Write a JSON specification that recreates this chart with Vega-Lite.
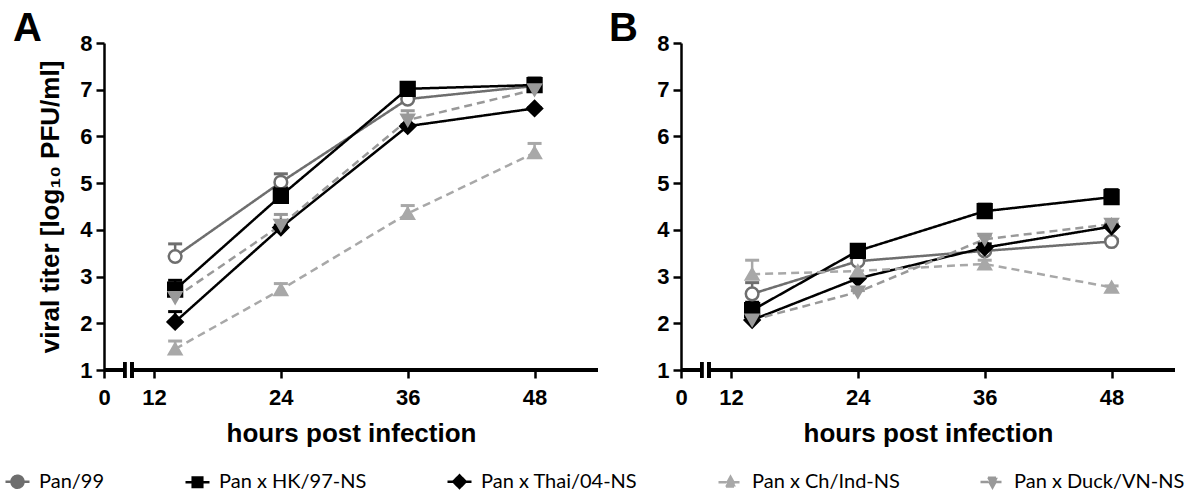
{
  "$schema": "https://vega.github.io/schema/vega-lite/v6.json",
  "padding": {"left": 4, "top": 9, "right": 0, "bottom": 0},
  "background": "white",
  "datasets": {
    "titers": [
      {"panel": "A", "series": "Pan/99", "hpi": 14, "titer": 3.43, "upper": 3.70},
      {"panel": "A", "series": "Pan/99", "hpi": 24, "titer": 5.02, "upper": 5.20},
      {"panel": "A", "series": "Pan/99", "hpi": 36, "titer": 6.80, "upper": 6.92},
      {"panel": "A", "series": "Pan/99", "hpi": 48, "titer": 7.08, "upper": 7.20},
      {"panel": "A", "series": "Pan x HK/97-NS", "hpi": 14, "titer": 2.72, "upper": 2.92},
      {"panel": "A", "series": "Pan x HK/97-NS", "hpi": 24, "titer": 4.73, "upper": 4.90},
      {"panel": "A", "series": "Pan x HK/97-NS", "hpi": 36, "titer": 7.02, "upper": 7.15},
      {"panel": "A", "series": "Pan x HK/97-NS", "hpi": 48, "titer": 7.10, "upper": 7.25},
      {"panel": "A", "series": "Pan x Thai/04-NS", "hpi": 14, "titer": 2.03, "upper": 2.25},
      {"panel": "A", "series": "Pan x Thai/04-NS", "hpi": 24, "titer": 4.05, "upper": 4.10},
      {"panel": "A", "series": "Pan x Thai/04-NS", "hpi": 36, "titer": 6.22, "upper": 6.25},
      {"panel": "A", "series": "Pan x Thai/04-NS", "hpi": 48, "titer": 6.60, "upper": 6.62},
      {"panel": "A", "series": "Pan x Ch/Ind-NS", "hpi": 14, "titer": 1.45, "upper": 1.62},
      {"panel": "A", "series": "Pan x Ch/Ind-NS", "hpi": 24, "titer": 2.72, "upper": 2.85},
      {"panel": "A", "series": "Pan x Ch/Ind-NS", "hpi": 36, "titer": 4.35, "upper": 4.52},
      {"panel": "A", "series": "Pan x Ch/Ind-NS", "hpi": 48, "titer": 5.65, "upper": 5.85},
      {"panel": "A", "series": "Pan x Duck/VN-NS", "hpi": 14, "titer": 2.55, "upper": 2.68},
      {"panel": "A", "series": "Pan x Duck/VN-NS", "hpi": 24, "titer": 4.10, "upper": 4.33},
      {"panel": "A", "series": "Pan x Duck/VN-NS", "hpi": 36, "titer": 6.35, "upper": 6.55},
      {"panel": "A", "series": "Pan x Duck/VN-NS", "hpi": 48, "titer": 7.00, "upper": 7.10},
      {"panel": "B", "series": "Pan/99", "hpi": 14, "titer": 2.63, "upper": 2.87},
      {"panel": "B", "series": "Pan/99", "hpi": 24, "titer": 3.33, "upper": 3.38},
      {"panel": "B", "series": "Pan/99", "hpi": 36, "titer": 3.55, "upper": 3.60},
      {"panel": "B", "series": "Pan/99", "hpi": 48, "titer": 3.75, "upper": 3.80},
      {"panel": "B", "series": "Pan x HK/97-NS", "hpi": 14, "titer": 2.28, "upper": 2.45},
      {"panel": "B", "series": "Pan x HK/97-NS", "hpi": 24, "titer": 3.55, "upper": 3.64},
      {"panel": "B", "series": "Pan x HK/97-NS", "hpi": 36, "titer": 4.40, "upper": 4.55},
      {"panel": "B", "series": "Pan x HK/97-NS", "hpi": 48, "titer": 4.70, "upper": 4.86},
      {"panel": "B", "series": "Pan x Thai/04-NS", "hpi": 14, "titer": 2.07, "upper": 2.10},
      {"panel": "B", "series": "Pan x Thai/04-NS", "hpi": 24, "titer": 2.96, "upper": 3.00},
      {"panel": "B", "series": "Pan x Thai/04-NS", "hpi": 36, "titer": 3.62, "upper": 3.70},
      {"panel": "B", "series": "Pan x Thai/04-NS", "hpi": 48, "titer": 4.07, "upper": 4.12},
      {"panel": "B", "series": "Pan x Ch/Ind-NS", "hpi": 14, "titer": 3.05, "upper": 3.35},
      {"panel": "B", "series": "Pan x Ch/Ind-NS", "hpi": 24, "titer": 3.12, "upper": 3.30},
      {"panel": "B", "series": "Pan x Ch/Ind-NS", "hpi": 36, "titer": 3.27, "upper": 3.35},
      {"panel": "B", "series": "Pan x Ch/Ind-NS", "hpi": 48, "titer": 2.77, "upper": 2.80},
      {"panel": "B", "series": "Pan x Duck/VN-NS", "hpi": 14, "titer": 2.07, "upper": 2.10},
      {"panel": "B", "series": "Pan x Duck/VN-NS", "hpi": 24, "titer": 2.67, "upper": 2.70},
      {"panel": "B", "series": "Pan x Duck/VN-NS", "hpi": 36, "titer": 3.80, "upper": 3.88},
      {"panel": "B", "series": "Pan x Duck/VN-NS", "hpi": 48, "titer": 4.12, "upper": 4.15}
    ]
  },
  "data": {"name": "titers"},
  "hconcat": [
    {
      "width": 494,
      "height": 327,
      "title": {"text": "A", "anchor": "start", "frame": "group", "dx": -91},
      "transform": [{"filter": "datum.panel === 'A'"}],
      "layer": [
        {
          "mark": {"type": "line", "strokeWidth": 2.5},
          "encoding": {
            "x": {"field": "hpi", "type": "quantitative", "scale": {"domain": [0, 12, 54], "range": [0, 50, 494], "nice": false, "zero": false},
                  "axis": {"values": [0, 12, 24, 36, 48], "title": "hours post infection", "domain": false}},
            "y": {"field": "titer", "type": "quantitative", "scale": {"domain": [1, 8], "nice": false, "zero": false},
                  "axis": {"values": [1, 2, 3, 4, 5, 6, 7, 8], "title": "viral titer [log₁₀ PFU/ml]"}},
            "color": {"field": "series", "type": "nominal",
                      "scale": {"domain": ["Pan/99", "Pan x HK/97-NS", "Pan x Thai/04-NS", "Pan x Ch/Ind-NS", "Pan x Duck/VN-NS"], "range": ["#6e6e6e", "#000000", "#000000", "#a8a8a8", "#999999"]},
                      "legend": {
                        "orient": "none", "legendX": -100, "legendY": 425, "direction": "horizontal", "columns": 5, "title": null,
                        "encode": {
                          "symbols": {"update": {
                            "shape": {"signal": "datum.value === 'Pan/99' ? 'M-1,0H-0.5M0.5,0H1M-0.5,0A0.5,0.5 0 1 1 0.5,0A0.5,0.5 0 1 1 -0.5,0M-0.5,0H0.5' : datum.value === 'Pan x HK/97-NS' ? 'M-1,0H1M-0.4,-0.4H0.4V0.4H-0.4Z' : datum.value === 'Pan x Thai/04-NS' ? 'M-1,0H1M0,-0.52L0.52,0L0,0.52L-0.52,0Z' : datum.value === 'Pan x Ch/Ind-NS' ? 'M-1,0H1M0,-0.45L0.45,0.36L-0.45,0.36Z' : 'M-1,0H1M0,0.45L0.45,-0.36L-0.45,-0.36Z'"},
                            "fill": {"signal": "datum.value === 'Pan/99' ? 'transparent' : scale('color', datum.value)"},
                            "strokeWidth": {"value": 2.5},
                            "opacity": {"value": 1}
                          }}
                        }
                      }},
            "strokeDash": {"field": "series", "type": "nominal",
                      "scale": {"domain": ["Pan/99", "Pan x HK/97-NS", "Pan x Thai/04-NS", "Pan x Ch/Ind-NS", "Pan x Duck/VN-NS"], "range": [[1, 0], [1, 0], [1, 0], [8, 5], [8, 5]]}}
          }
        },
        {
          "mark": {"type": "rule", "strokeWidth": 2.5},
          "encoding": {
            "x": {"field": "hpi", "type": "quantitative"},
            "y": {"field": "titer", "type": "quantitative"},
            "y2": {"field": "upper"},
            "stroke": {"field": "series", "type": "nominal", "legend": null,
                       "scale": {"domain": ["Pan/99", "Pan x HK/97-NS", "Pan x Thai/04-NS", "Pan x Ch/Ind-NS", "Pan x Duck/VN-NS"], "range": ["#6e6e6e", "#000000", "#000000", "#a8a8a8", "#999999"]}}
          }
        },
        {
          "mark": {"type": "point", "shape": "stroke", "size": 196, "strokeWidth": 3, "opacity": 1},
          "encoding": {
            "x": {"field": "hpi", "type": "quantitative"},
            "y": {"field": "upper", "type": "quantitative"},
            "stroke": {"field": "series", "type": "nominal", "legend": null}
          }
        },
        {
          "mark": {"type": "point", "filled": false, "opacity": 1, "strokeWidth": 2.5},
          "encoding": {
            "x": {"field": "hpi", "type": "quantitative"},
            "y": {"field": "titer", "type": "quantitative"},
            "shape": {"condition": [
              {"test": "datum.series === 'Pan/99'", "value": "circle"},
              {"test": "datum.series === 'Pan x HK/97-NS'", "value": "square"},
              {"test": "datum.series === 'Pan x Thai/04-NS'", "value": "diamond"},
              {"test": "datum.series === 'Pan x Ch/Ind-NS'", "value": "triangle-up"}
            ], "value": "triangle-down"},
            "size": {"condition": [
              {"test": "datum.series === 'Pan/99'", "value": 160},
              {"test": "datum.series === 'Pan x HK/97-NS'", "value": 190},
              {"test": "datum.series === 'Pan x Thai/04-NS'", "value": 220}
            ], "value": 150},
            "stroke": {"field": "series", "type": "nominal", "legend": null},
            "fill": {"condition": {"test": "datum.series === 'Pan/99'", "value": "white"}, "field": "series", "type": "nominal", "legend": null,
                     "scale": {"domain": ["Pan/99", "Pan x HK/97-NS", "Pan x Thai/04-NS", "Pan x Ch/Ind-NS", "Pan x Duck/VN-NS"], "range": ["#6e6e6e", "#000000", "#000000", "#a8a8a8", "#999999"]}}
          }
        },
        {
          "mark": {"type": "rule", "color": "black", "strokeWidth": 2.5},
          "encoding": {"x": {"datum": 0}, "x2": {"datum": 5}, "y": {"datum": 1}}
        },
        {
          "mark": {"type": "rule", "color": "black", "strokeWidth": 2.5},
          "encoding": {"x": {"datum": 6.7}, "x2": {"datum": 54}, "y": {"datum": 1}}
        },
        {
          "mark": {"type": "rule", "color": "black", "strokeWidth": 2.5},
          "encoding": {"x": {"datum": 5}, "y": {"datum": 0.83}, "y2": {"datum": 1.17}}
        },
        {
          "mark": {"type": "rule", "color": "black", "strokeWidth": 2.5},
          "encoding": {"x": {"datum": 6.7}, "y": {"datum": 0.83}, "y2": {"datum": 1.17}}
        }
      ]
    },
    {
      "width": 494,
      "height": 327,
      "title": {"text": "B", "anchor": "start", "frame": "group", "dx": -72},
      "transform": [{"filter": "datum.panel === 'B'"}],
      "layer": [
        {
          "mark": {"type": "line", "strokeWidth": 2.5},
          "encoding": {
            "x": {"field": "hpi", "type": "quantitative", "scale": {"domain": [0, 12, 54], "range": [0, 50, 494], "nice": false, "zero": false},
                  "axis": {"values": [0, 12, 24, 36, 48], "title": "hours post infection", "domain": false}},
            "y": {"field": "titer", "type": "quantitative", "scale": {"domain": [1, 8], "nice": false, "zero": false},
                  "axis": {"values": [1, 2, 3, 4, 5, 6, 7, 8], "title": null}},
            "color": {"field": "series", "type": "nominal"},
            "strokeDash": {"field": "series", "type": "nominal"}
          }
        },
        {
          "mark": {"type": "rule", "strokeWidth": 2.5},
          "encoding": {
            "x": {"field": "hpi", "type": "quantitative"},
            "y": {"field": "titer", "type": "quantitative"},
            "y2": {"field": "upper"},
            "stroke": {"field": "series", "type": "nominal", "legend": null}
          }
        },
        {
          "mark": {"type": "point", "shape": "stroke", "size": 196, "strokeWidth": 3, "opacity": 1},
          "encoding": {
            "x": {"field": "hpi", "type": "quantitative"},
            "y": {"field": "upper", "type": "quantitative"},
            "stroke": {"field": "series", "type": "nominal", "legend": null}
          }
        },
        {
          "mark": {"type": "point", "filled": false, "opacity": 1, "strokeWidth": 2.5},
          "encoding": {
            "x": {"field": "hpi", "type": "quantitative"},
            "y": {"field": "titer", "type": "quantitative"},
            "shape": {"condition": [
              {"test": "datum.series === 'Pan/99'", "value": "circle"},
              {"test": "datum.series === 'Pan x HK/97-NS'", "value": "square"},
              {"test": "datum.series === 'Pan x Thai/04-NS'", "value": "diamond"},
              {"test": "datum.series === 'Pan x Ch/Ind-NS'", "value": "triangle-up"}
            ], "value": "triangle-down"},
            "size": {"condition": [
              {"test": "datum.series === 'Pan/99'", "value": 160},
              {"test": "datum.series === 'Pan x HK/97-NS'", "value": 190},
              {"test": "datum.series === 'Pan x Thai/04-NS'", "value": 220}
            ], "value": 150},
            "stroke": {"field": "series", "type": "nominal", "legend": null},
            "fill": {"condition": {"test": "datum.series === 'Pan/99'", "value": "white"}, "field": "series", "type": "nominal", "legend": null}
          }
        },
        {
          "mark": {"type": "rule", "color": "black", "strokeWidth": 2.5},
          "encoding": {"x": {"datum": 0}, "x2": {"datum": 5}, "y": {"datum": 1}}
        },
        {
          "mark": {"type": "rule", "color": "black", "strokeWidth": 2.5},
          "encoding": {"x": {"datum": 6.7}, "x2": {"datum": 54}, "y": {"datum": 1}}
        },
        {
          "mark": {"type": "rule", "color": "black", "strokeWidth": 2.5},
          "encoding": {"x": {"datum": 5}, "y": {"datum": 0.83}, "y2": {"datum": 1.17}}
        },
        {
          "mark": {"type": "rule", "color": "black", "strokeWidth": 2.5},
          "encoding": {"x": {"datum": 6.7}, "y": {"datum": 0.83}, "y2": {"datum": 1.17}}
        }
      ]
    }
  ],
  "spacing": 9,
  "config": {
    "view": {"stroke": null},
    "font": "Liberation Sans",
    "title": {"fontSize": 40, "fontWeight": "bold", "font": "Liberation Sans", "color": "black", "offset": -17, "baseline": "alphabetic"},
    "axis": {
      "grid": false,
      "domainColor": "black", "domainWidth": 2.5,
      "tickColor": "black", "tickWidth": 2.5, "tickSize": 8,
      "labelFont": "Liberation Sans", "labelFontSize": 22, "labelFontWeight": "bold", "labelColor": "black", "labelPadding": 4,
      "titleFont": "Liberation Sans", "titleFontSize": 26, "titleFontWeight": "bold", "titleColor": "black"
    },
    "axisX": {"labelPadding": 9, "titlePadding": 12, "labelFlush": false},
    "axisY": {"titlePadding": 16},
    "legend": {
      "labelFont": "Lato", "labelFontSize": 20, "labelColor": "black", "labelLimit": 400,
      "symbolSize": 576, "symbolStrokeWidth": 2.5, "columnPadding": 75, "labelOffset": 8,
      "symbolOpacity": 1
    }
  }
}
